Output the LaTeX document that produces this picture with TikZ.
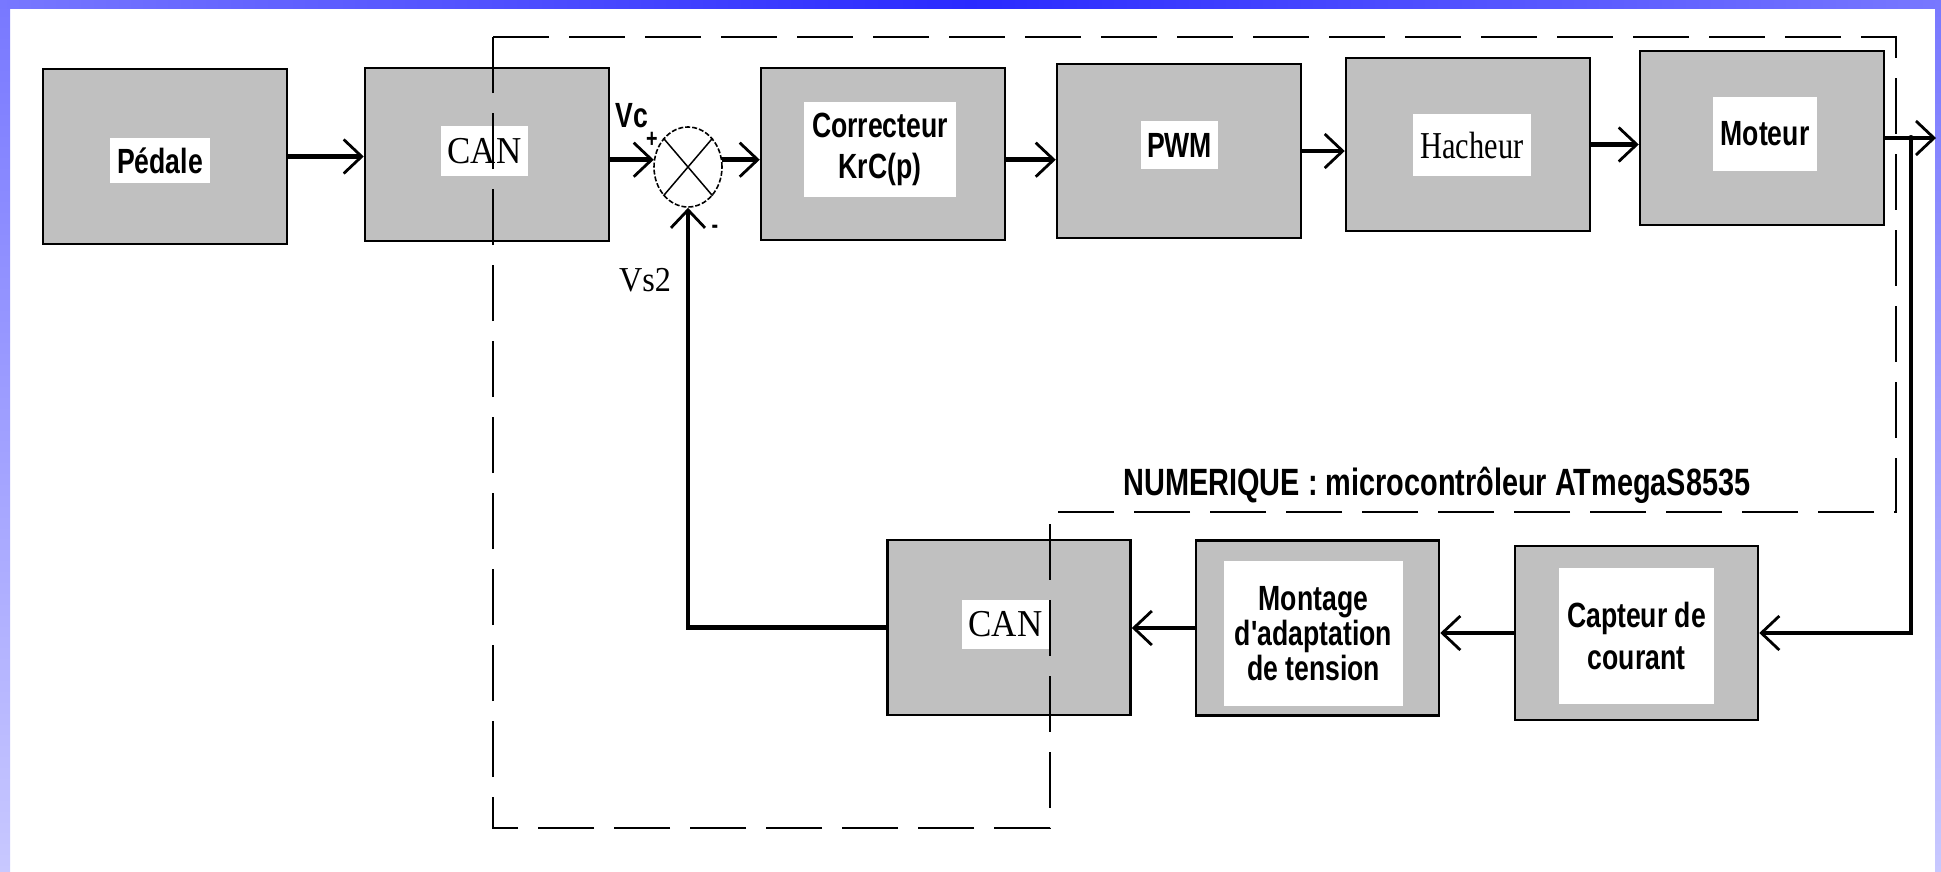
\documentclass[tikz,border=0pt]{standalone}
\usepackage{xcolor}
\usepackage{fontspec}
\usepackage{tikz}
\usetikzlibrary{shapes.geometric, arrows.meta, positioning, calc}
\newfontfamily\NarrowSans[FakeStretch=0.76]{Liberation Sans}
\newfontfamily\NarrowSerif[FakeStretch=0.92]{Liberation Serif}
\newfontfamily\TightSerif[FakeStretch=0.8]{Liberation Serif}
\definecolor{BlockGray}{RGB}{192, 192, 192}
\definecolor{BandBlue}{RGB}{42, 42, 255}
\definecolor{BandEdge}{RGB}{120, 120, 255}
\definecolor{BandPale}{RGB}{200, 200, 255}

\begin{document}
\begin{tikzpicture}[x=1pt, y=-1pt,
    block/.style={draw=black, fill=BlockGray, line width=2.5pt,
      minimum width=244pt, minimum height=174pt, inner sep=0pt},
    tag/.style={fill=white, inner sep=0pt, align=center},
    sanslbl/.style={font=\fontsize{35}{40}\selectfont\NarrowSans\bfseries},
    seriflbl/.style={font=\fontsize{38}{40}\selectfont\NarrowSerif},
    flow/.style={line width=4.5pt,
      -{Straight Barb[length=18pt, width=34pt, line width=2.8pt]}},
    frame/.style={line width=1.6pt, dash pattern=on 56pt off 20pt}
  ]
    \useasboundingbox (0,0) rectangle (1941,871);
    \fill[white] (0,0) rectangle (1941,871);
    \shade[top color=BandEdge, bottom color=BandPale] (0,0) rectangle (10,871);
    \shade[top color=BandEdge, bottom color=BandPale] (1935,0) rectangle (1941,871);
    \shade[left color=BandEdge, right color=BandEdge, middle color=BandBlue] (0,0) rectangle (1941,8);

    \node[block, minimum height=175pt] (ped) at (165,156.5) {};
    \node[block, minimum height=173pt] (canA) at (487,154.5) {};
    \node[block, minimum height=172pt] (corr) at (883,154) {};
    \node[block] (pwm) at (1179,151) {};
    \node[block, minimum height=173pt] (hach) at (1468,144.5) {};
    \node[block] (mot) at (1762,138) {};
    \node[block, minimum width=243pt, minimum height=175pt] (canB) at (1009,627.5) {};
    \node[block, minimum width=243pt, minimum height=175pt] (mont) at (1317.5,628) {};
    \node[block, minimum width=243pt] (capt) at (1636.5,633) {};

    \node[tag, sanslbl, minimum width=100pt, minimum height=45pt] (pedtag) at (160,160.5) {Pédale};
    \node[tag, seriflbl, minimum width=87pt, minimum height=50pt] (canAtag) at (484.5,151) {CAN};
    \node[tag, sanslbl, font=\fontsize{35}{41}\selectfont\NarrowSans\bfseries,
      minimum width=152pt, minimum height=95pt] (corrtag) at (880,149.5) {Correcteur\\KrC(p)};
    \node[tag, sanslbl, minimum width=77pt, minimum height=48pt] (pwmtag) at (1179.5,145) {PWM};
    \node[tag, seriflbl, font=\fontsize{38}{40}\selectfont\TightSerif,
      minimum width=118pt, minimum height=62pt] (hachtag) at (1472,145) {Hacheur};
    \node[tag, sanslbl, minimum width=104pt, minimum height=74pt] (mottag) at (1765,134) {Moteur};
    \node[tag, seriflbl, minimum width=87pt, minimum height=49pt] (canBtag) at (1005.5,624.5) {CAN};
    \node[tag, sanslbl, font=\fontsize{35}{35}\selectfont\NarrowSans\bfseries,
      minimum width=179pt, minimum height=145pt] (monttag) at (1313.5,633.5) {Montage\\d'adaptation\\de tension};
    \node[tag, sanslbl, font=\fontsize{35}{42}\selectfont\NarrowSans\bfseries,
      minimum width=155pt, minimum height=136pt] (capttag) at (1636.5,636) {Capteur de\\courant};

    \node[ellipse, draw, line width=1.6pt, dash pattern=on 5pt off 2pt,
      minimum width=68pt, minimum height=80pt, inner sep=0pt] (sum) at (688,167) {};
    \draw[line width=1.5pt] (sum.north west) -- (sum.south east) (sum.north east) -- (sum.south west);

    \draw[flow] (ped.east) -- (ped.east -| canA.west);
    \draw[flow] (canA.east |- sum.168) -- (sum.168);
    \draw[flow] (sum.12) -- (sum.12 -| corr.west);
    \draw[flow] (sum.12 -| corr.east) -- (sum.12 -| pwm.west);
    \draw[flow] (pwm.east) -- (pwm.east -| hach.west);
    \draw[flow] (hach.east) -- (hach.east -| mot.west);
    \coordinate (tap) at (1911,138);
    \coordinate (out) at (1936,138);
    \draw[flow] (mot.east) -- (out);
    \draw[flow] (tap) |- (capt.east);
    \fill (tap) circle (3pt);
    \draw[flow] (capt.west) -- (capt.west -| mont.east);
    \draw[flow] (mont.west) -- (mont.west -| canB.east);
    \draw[flow] (canB.west) -| (sum.south);

    \draw[frame] (493,37) -- (1896,37) -- (1896,512) -- (1050,512) -- (1050,828) -- (493,828) -- cycle;

    \node[font=\fontsize{38}{40}\selectfont\NarrowSans\bfseries] (numlbl) at (1437,485) {NUMERIQUE : microcontrôleur ATmegaS8535};
    \node[sanslbl] (vc) at (632,116) {Vc};
    \node[font=\fontsize{26}{26}\selectfont\NarrowSans\bfseries] (plus) at (652,140) {+};
    \node[font=\fontsize{26}{26}\selectfont\NarrowSans\bfseries] (minus) at (715,229) {-};
    \node[font=\fontsize{35}{40}\selectfont\NarrowSerif] (vs) at (645,280) {Vs2};
  \end{tikzpicture}
\end{document}
